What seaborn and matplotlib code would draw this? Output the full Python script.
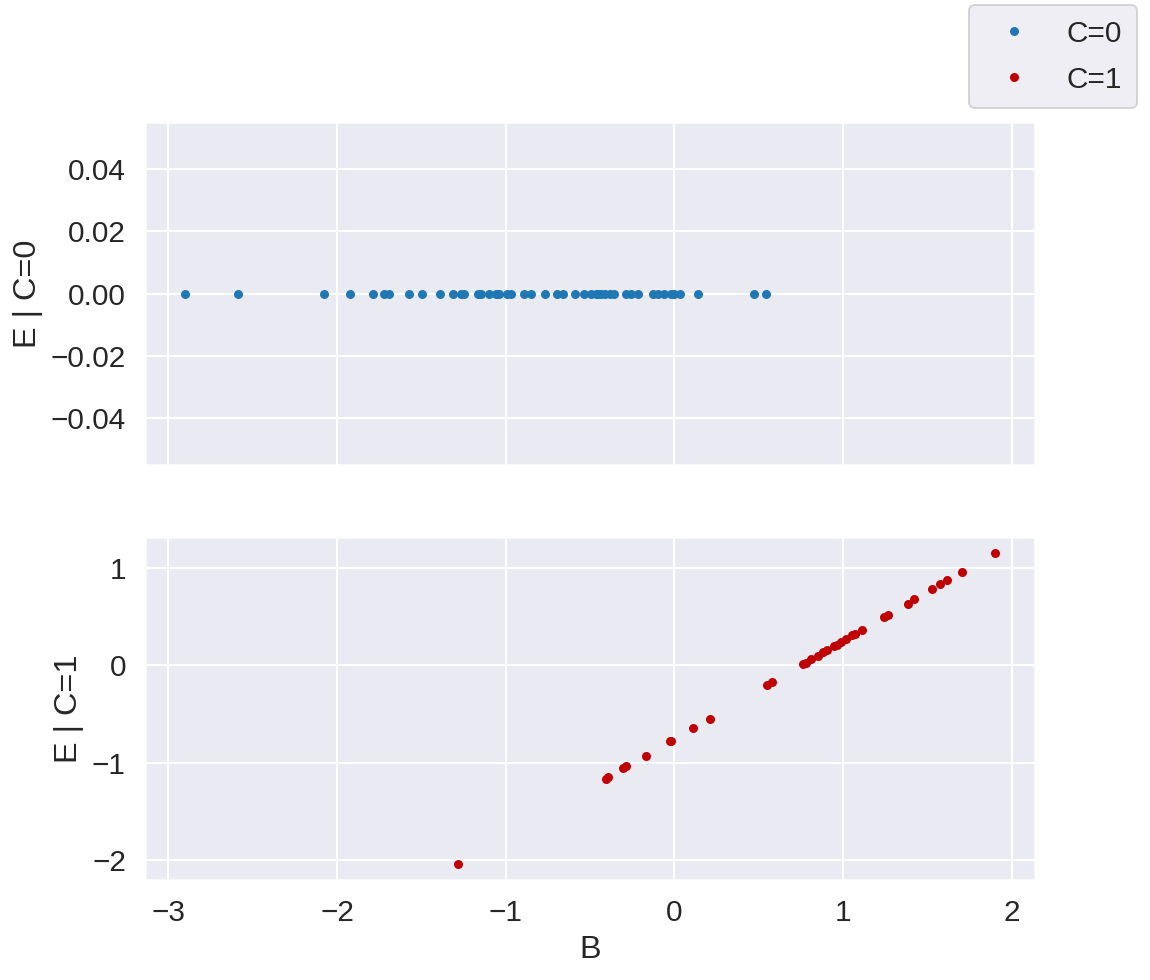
import numpy as np
import pandas as pd
import seaborn as sns
from matplotlib import pyplot as plt
from matplotlib.ticker import MultipleLocator

# B values for the C=0 group (E is zero everywhere there)
b_c0 = [-2.90, -2.587, -2.079, -1.921, -1.789, -1.722, -1.694, -1.576, -1.495, -1.389,
        -1.310, -1.265, -1.245, -1.163, -1.147, -1.101, -1.058, -1.045, -1.038, -0.993,
        -0.969, -0.894, -0.851, -0.768, -0.697, -0.658, -0.591, -0.536, -0.496, -0.467,
        -0.450, -0.437, -0.414, -0.382, -0.355, -0.284, -0.256, -0.217, -0.126, -0.099,
        -0.063, -0.020, -0.004, 0.031, 0.138, 0.475, 0.542]
e_c0 = [0.0] * len(b_c0)

# B and E values for the C=1 group
b_c1 = [-1.281, -0.408, -0.394, -0.303, -0.284, -0.170, -0.028, -0.020, 0.108, 0.209,
        0.551, 0.577, 0.764, 0.780, 0.810, 0.853, 0.879, 0.906, 0.946, 0.962,
        0.991, 1.017, 1.056, 1.070, 1.115, 1.241, 1.267, 1.385, 1.424, 1.527,
        1.578, 1.615, 1.706, 1.899]
e_c1 = [-2.044, -1.168, -1.144, -1.059, -1.036, -0.927, -0.782, -0.775, -0.643, -0.551,
        -0.200, -0.176, 0.007, 0.027, 0.061, 0.098, 0.132, 0.159, 0.193, 0.210,
        0.237, 0.267, 0.305, 0.315, 0.362, 0.490, 0.514, 0.632, 0.677, 0.778,
        0.829, 0.870, 0.957, 1.154]

df0 = pd.DataFrame({"B": b_c0, "E": e_c0})
df1 = pd.DataFrame({"B": b_c1, "E": e_c1})

sns.set_theme(style="darkgrid", font_scale=1.35)
plt.rcParams["font.family"] = ["Liberation Sans", "DejaVu Sans"]

fig, axes = plt.subplots(2, 1, sharex=True, figsize=(1150 / 144, 980 / 144), dpi=144)
fig.subplots_adjust(left=0.126, right=0.9, top=0.8755, bottom=0.102, hspace=0.21)

# top: C=0
sns.lineplot(data=df0, x="B", y="E", ax=axes[0], color="#1f77b4", marker=".",
             linestyle="", markersize=9, markeredgewidth=0, label="C=0",
             estimator=None, sort=False, legend=False)
axes[0].set_ylabel("E | C=0")
axes[0].set_ylim(-0.055, 0.055)
axes[0].yaxis.set_major_locator(MultipleLocator(0.02))

# bottom: C=1
sns.lineplot(data=df1, x="B", y="E", ax=axes[1], color="#c00000", marker=".",
             linestyle="", markersize=9, markeredgewidth=0, label="C=1",
             estimator=None, sort=False, legend=False)
axes[1].set_ylabel("E | C=1")
axes[1].set_xlabel("B")
axes[1].yaxis.set_major_locator(MultipleLocator(1))
axes[1].xaxis.set_major_locator(MultipleLocator(1))
axes[0].set_xlabel("")

handles = axes[0].get_lines()[:1] + axes[1].get_lines()[:1]
fig.legend(handles, ["C=0", "C=1"], loc="upper right", bbox_to_anchor=(0.989, 0.995),
           borderaxespad=0, labelspacing=0.6, borderpad=0.5)

fig.savefig("out.png", dpi=144)
